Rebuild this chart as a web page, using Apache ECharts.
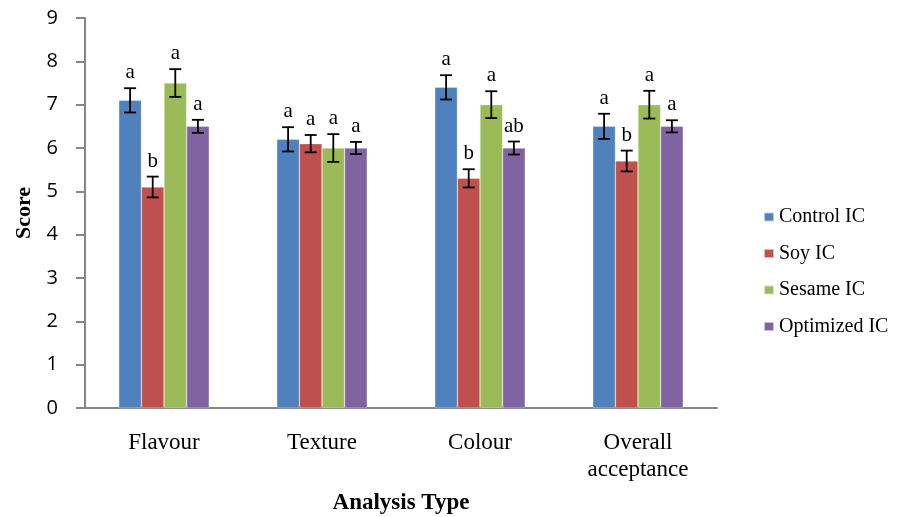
<!DOCTYPE html>
<html><head><meta charset="utf-8">
<script src="https://cdn.jsdelivr.net/npm/echarts@6/dist/echarts.min.js"></script>
<style>html,body{margin:0;padding:0;background:#fff}#c{width:906px;height:517px}</style>
</head><body><div id="c"></div>
<script>
const categories = ['Flavour', 'Texture', 'Colour', 'Overall\nacceptance'];
const seriesNames = ['Control IC', 'Soy IC', 'Sesame IC', 'Optimized IC'];
const controlVals = [7.1, 6.2, 7.4, 6.5];
const soyVals = [5.1, 6.1, 5.3, 5.7];
const sesameVals = [7.5, 6.0, 7.0, 7.0];
const optimizedVals = [6.5, 6.0, 6.0, 6.5];
const controlErr = [0.28, 0.28, 0.28, 0.29];
const soyErr = [0.24, 0.2, 0.21, 0.24];
const sesameErr = [0.32, 0.32, 0.31, 0.32];
const optimizedErr = [0.15, 0.14, 0.15, 0.14];
const controlLetters = ['a', 'a', 'a', 'a'];
const soyLetters = ['b', 'a', 'b', 'b'];
const sesameLetters = ['a', 'a', 'a', 'a'];
const optimizedLetters = ['a', 'a', 'ab', 'a'];
const yTicks = [0, 1, 2, 3, 4, 5, 6, 7, 8, 9];

const values = [controlVals, soyVals, sesameVals, optimizedVals];
const errs = [controlErr, soyErr, sesameErr, optimizedErr];
const letters = [controlLetters, soyLetters, sesameLetters, optimizedLetters];
const colors = ['#4F81BD', '#C0504D', '#9BBB59', '#8064A2'];
const BW = 22.6;

const chart = echarts.init(document.getElementById('c'));
const series = [];
seriesNames.forEach((name, s) => {
  series.push({
    name, type: 'bar', data: values[s], barWidth: BW, barGap: '0%',
    itemStyle: { color: colors[s], borderColor: 'rgba(255,255,255,0.6)', borderWidth: 0.5 },
    z: 2
  });
});
seriesNames.forEach((name, s) => {
  series.push({
    type: 'custom', name: name + ' err', silent: true, z: 5,
    data: values[s].map((v, i) => [i, v, errs[s][i]]),
    renderItem: function (params, api) {
      const i = api.value(0), v = api.value(1), e = api.value(2);
      const off = (s - 1.5) * BW;
      const hi = api.coord([i, v + e]);
      const lo = api.coord([i, v - e]);
      const x = hi[0] + off;
      const cap = 6;
      const st = { stroke: '#000', lineWidth: 1.8 };
      return {
        type: 'group', children: [
          { type: 'line', shape: { x1: x, y1: hi[1], x2: x, y2: lo[1] }, style: st },
          { type: 'line', shape: { x1: x - cap, y1: hi[1], x2: x + cap, y2: hi[1] }, style: st },
          { type: 'line', shape: { x1: x - cap, y1: lo[1], x2: x + cap, y2: lo[1] }, style: st },
          { type: 'text', x: x, y: hi[1] - 5, style: { text: letters[s][i], fill: '#000', font: '21px "Liberation Serif"', align: 'center', verticalAlign: 'bottom' } }
        ]
      };
    }
  });
});

chart.setOption({
  animation: false,
  backgroundColor: '#fff',
  grid: { left: 85, right: 189, top: 18, bottom: 109, containLabel: false, outerBoundsMode: 'none' },
  legend: {
    orient: 'vertical', left: 758, top: 202, itemWidth: 10, itemHeight: 9, itemGap: 16.5,
    icon: 'rect',
    data: seriesNames,
    textStyle: { fontFamily: 'Liberation Serif', fontSize: 20, color: '#000' }
  },
  xAxis: {
    type: 'category', data: categories,
    name: 'Analysis Type', nameLocation: 'middle', nameGap: 95,
    nameTextStyle: { fontFamily: 'Liberation Serif', fontSize: 23, fontWeight: 'bold', color: '#000', verticalAlign: 'middle' },
    axisLine: { lineStyle: { color: '#868686', width: 2 } },
    axisTick: { show: false },
    axisLabel: { fontFamily: 'Liberation Serif', fontSize: 23, color: '#000', margin: 21, lineHeight: 27 }
  },
  yAxis: {
    type: 'value', min: 0, max: 9, interval: 1,
    name: 'Score', nameLocation: 'middle', nameGap: 60, nameRotate: 90,
    nameTextStyle: { fontFamily: 'Liberation Serif', fontSize: 22, fontWeight: 'bold', color: '#000', verticalAlign: 'middle' },
    axisLine: { show: true, lineStyle: { color: '#868686', width: 2 } },
    axisTick: { show: true, inside: false, length: 9, lineStyle: { color: '#868686', width: 2 } },
    splitLine: { show: false },
    axisLabel: { fontFamily: 'Open Sans', fontSize: 20, color: '#000', margin: 27,
      formatter: v => yTicks.includes(v) ? String(v) : '' }
  },
  series
});
</script></body></html>
